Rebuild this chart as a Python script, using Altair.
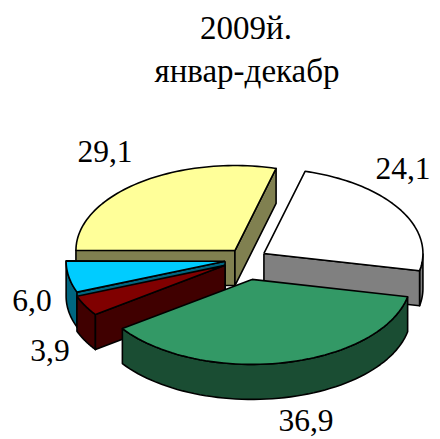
import math
import altair as alt
import pandas as pd

# Data
shares = [24.1, 36.9, 3.9, 6.0, 29.1]
share_labels = ["24,1", "36,9", "3,9", "6,0", "29,1"]
title_lines = ["2009й.", "январ-декабр"]

# Style and layout (not data)
explode = [0.125, 0.245, 0.157, 0.14, 0.125]
nudge_x = [0, -3, 0, 0, 0]
top_colors = ["#FFFFFF", "#339966", "#800000", "#00CCFF", "#FFFF99"]
side_colors = ["#808080", "#1A4D33", "#400000", "#006680", "#808050"]
label_x = [403, 306, 50, 32, 105]
label_y = [179, 431, 361, 311, 162]
title_x = [246, 247]
title_y = [39, 82]
FONT = "Liberation Serif"
FS = 31.5
TITLE_FS = 33
CX, CY, A, B, DEPTH = 247, 259, 159, 85, 35
START = 15.0

W, H = 424, 431
xs = alt.Scale(domain=[8, 432])
ys = alt.Scale(domain=[439, 8])


def rim(t, ax, ay):
    r = math.radians(t)
    return ax + A * math.sin(r), ay - B * math.cos(r)


def line_layer(points, fill):
    pts = points + [points[0]]
    df = pd.DataFrame({"x": [p[0] for p in pts], "y": [p[1] for p in pts], "o": range(len(pts))})
    return alt.Chart(df).mark_line(
        fill=fill, stroke="#000000", strokeWidth=1.6, strokeJoin="round", interpolate="linear"
    ).encode(
        x=alt.X("x:Q", scale=xs, axis=None),
        y=alt.Y("y:Q", scale=ys, axis=None),
        order="o:O",
    )


# Angular extents follow the shares
bounds = []
t = START
total = sum(shares)
for s in shares:
    bounds.append((t, t + 360 * s / total))
    t += 360 * s / total

apex = []
for e, n, (t0, t1) in zip(explode, nudge_x, bounds):
    ax, ay = rim((t0 + t1) / 2, 0, 0)
    apex.append((CX + e * ax + n, CY + e * ay))


def arc(t0, t1, ax, ay, dy=0, n=60):
    return [(rim(t0 + (t1 - t0) * i / n, ax, ay)[0], rim(t0 + (t1 - t0) * i / n, ax, ay)[1] + dy)
            for i in range(n + 1)]


def top(i):
    ax, ay = apex[i]
    return line_layer([(ax, ay)] + arc(*bounds[i], ax, ay), top_colors[i])


def cut(i, t):
    ax, ay = apex[i]
    x, y = rim(t, ax, ay)
    return line_layer([(ax, ay), (x, y), (x, y + DEPTH), (ax, ay + DEPTH)], side_colors[i])


def outer(i):
    ax, ay = apex[i]
    t0 = max(bounds[i][0], 90)
    t1 = min(bounds[i][1], 270)
    return line_layer(arc(t0, t1, ax, ay) + arc(t1, t0, ax, ay, DEPTH), side_colors[i])


layers = [
    # yellow
    cut(4, bounds[4][0]), cut(4, bounds[4][1]), top(4),
    # white
    outer(0), cut(0, bounds[0][1]), top(0),
    # cyan
    outer(3), cut(3, bounds[3][0]), top(3),
    # dark red
    outer(2), cut(2, bounds[2][0]), top(2),
    # green
    outer(1), top(1),
]


def text_layer(xv, yv, tv, size):
    df = pd.DataFrame({"x": xv, "y": yv, "t": tv})
    return alt.Chart(df).mark_text(font=FONT, fontSize=size, color="#000000", align="center", baseline="alphabetic").encode(
        x=alt.X("x:Q", scale=xs, axis=None),
        y=alt.Y("y:Q", scale=ys, axis=None),
        text="t:N",
    )


layers.append(text_layer(label_x, label_y, share_labels, FS))
layers.append(text_layer(title_x, title_y, title_lines, TITLE_FS))

chart = alt.layer(*layers).properties(
    width=W, height=H, padding=0, autosize=alt.AutoSizeParams(type="none")
).configure_view(stroke=None)

chart.save("out.html", embed_options={"renderer": "svg", "actions": False})
